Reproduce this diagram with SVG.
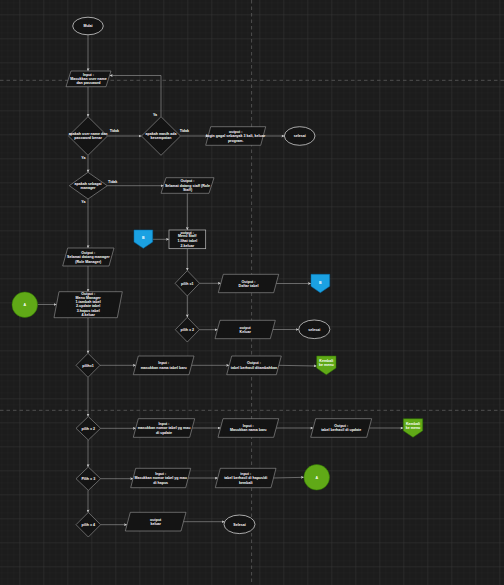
<svg xmlns="http://www.w3.org/2000/svg" width="504" height="585" viewBox="0 0 504 585">
<style>
.bg{fill:#1c1c1c}
.sh{fill:#141414;stroke:#9a9a9a;stroke-width:0.6}
.el{fill:#141414;stroke:#e6e6e6;stroke-width:0.7}
.rc{fill:#141414;stroke:#bdbdbd;stroke-width:0.7}
.blue{fill:#1ba1e2;stroke:#006eaf;stroke-width:0.5}
.green{fill:#60a917;stroke:#2d7600;stroke-width:0.5}
.t{font-family:"Liberation Sans",Arial,sans-serif;font-size:3.6px;font-weight:bold;fill:#ffffff;text-anchor:middle}
.lb{font-family:"Liberation Sans",Arial,sans-serif;font-size:3.6px;font-weight:bold;fill:#ffffff;text-anchor:middle}
.cn{fill:none;stroke:#a8a8a8;stroke-width:0.55}
.pg{stroke:#5c5c5c;stroke-width:0.8;stroke-dasharray:3.5 3;fill:none}
</style>
<defs>
<pattern id="minor" patternUnits="userSpaceOnUse" x="19.3" y="14.3" width="6" height="6">
<path d="M0 0H6M0 0V6" stroke="#262626" stroke-width="0.5" fill="none"/>
</pattern>
<pattern id="major" patternUnits="userSpaceOnUse" x="19.3" y="14.3" width="24" height="24">
<path d="M0 0H24M0 0V24" stroke="#3a3a3a" stroke-width="0.7" fill="none"/>
</pattern>
<marker id="ar" markerUnits="userSpaceOnUse" markerWidth="3" markerHeight="3" viewBox="0 0 6 6" refX="6" refY="3" orient="auto">
<path d="M0 0L6 3L0 6L1.5 3Z" fill="#d0d0d0"/>
</marker>
</defs>
<rect class="bg" x="0" y="0" width="504" height="585"/>
<rect x="0" y="0" width="504" height="585" fill="url(#minor)"/>
<rect x="0" y="0" width="504" height="585" fill="url(#major)"/>
<path class="pg" d="M0 80.3H504M0 410.3H504M251.6 0V585"/>

<g id="connectors">
<path class="cn" marker-end="url(#ar)" d="M88 34.8V71"/>
<path class="cn" marker-end="url(#ar)" d="M88 86.7V116.7"/>
<path class="cn" marker-end="url(#ar)" d="M107.5 136H141.5"/>
<path class="cn" marker-end="url(#ar)" d="M180.5 136H208.2"/>
<path class="cn" marker-end="url(#ar)" d="M263.2 136H284.4"/>
<path class="cn" marker-end="url(#ar)" d="M161 116.7V75.5H109.7"/>
<path class="cn" marker-end="url(#ar)" d="M88 155.3V172.3"/>
<path class="cn" marker-end="url(#ar)" d="M107.3 185.7H163.5"/>
<path class="cn" marker-end="url(#ar)" d="M187.3 193.3V230"/>
<path class="cn" marker-end="url(#ar)" d="M152.7 239.3H169"/>
<path class="cn" marker-end="url(#ar)" d="M187.3 248.7V270.6"/>
<path class="cn" marker-end="url(#ar)" d="M199.5 283.3H220.8"/>
<path class="cn" marker-end="url(#ar)" d="M276.2 283.5H311"/>
<path class="cn" marker-end="url(#ar)" d="M187.3 296V317.3"/>
<path class="cn" marker-end="url(#ar)" d="M199.3 329.7H217.5"/>
<path class="cn" marker-end="url(#ar)" d="M272.8 329.5H298.7"/>
<path class="cn" marker-end="url(#ar)" d="M88 199V248"/>
<path class="cn" marker-end="url(#ar)" d="M88 266V291.7"/>
<path class="cn" marker-end="url(#ar)" d="M37.6 304.5H56.5"/>
<path class="cn" marker-end="url(#ar)" d="M88 317.7V353.3"/>
<path class="cn" marker-end="url(#ar)" d="M100 365.3H135.8"/>
<path class="cn" marker-end="url(#ar)" d="M191.5 365.3H229.2"/>
<path class="cn" marker-end="url(#ar)" d="M278.8 365.3L316.7 366"/>
<path class="cn" marker-end="url(#ar)" d="M88 377.3V416.6"/>
<path class="cn" marker-end="url(#ar)" d="M100.6 428.3H135.8"/>
<path class="cn" marker-end="url(#ar)" d="M192.2 428H220.5"/>
<path class="cn" marker-end="url(#ar)" d="M276.2 428H313.2"/>
<path class="cn" marker-end="url(#ar)" d="M369.2 428H403.3"/>
<path class="cn" marker-end="url(#ar)" d="M88 440V467"/>
<path class="cn" marker-end="url(#ar)" d="M100.6 478.7H133.2"/>
<path class="cn" marker-end="url(#ar)" d="M188.2 478H217.8"/>
<path class="cn" marker-end="url(#ar)" d="M273.5 478L303.9 477.3"/>
<path class="cn" marker-end="url(#ar)" d="M88 490.4V512.4"/>
<path class="cn" marker-end="url(#ar)" d="M100.6 524.7H127"/>
<path class="cn" marker-end="url(#ar)" d="M183.5 521.7H224.6"/>
<text class="lb" x="114.3" y="131.9">Tidak</text>
<text class="lb" x="184.3" y="131.9">Tidak</text>
<text class="lb" x="155" y="115.5">Ya</text>
<text class="lb" x="83.3" y="158.5">Ya</text>
<text class="lb" x="112.7" y="182.5">Tidak</text>
<text class="lb" x="83.3" y="202.9">Ya</text>
</g>

<g id="start">
<ellipse class="el" cx="88" cy="26" rx="15.3" ry="8.8"/>
<text class="t" x="88" y="27.2">Mulai</text>
</g>
<g id="input-login">
<polygon class="sh" points="71,71 111,71 106,86.7 66,86.7"/>
<text class="t" x="88.5" y="75.7"><tspan x="88.5">Input :</tspan><tspan x="88.5" dy="4.3">Masukkan user name</tspan><tspan x="88.5" dy="4.3">dan password</tspan></text>
</g>
<g id="cek-login">
<polygon class="sh" points="88,116.7 107.5,136 88,155.3 68.5,136"/>
<text class="t" x="88" y="135.1"><tspan x="88">apakah user name dan</tspan><tspan x="88" dy="4.3">password benar</tspan></text>
</g>
<g id="cek-kesempatan">
<polygon class="sh" points="161,116.7 180.5,136 161,155.3 141.5,136"/>
<text class="t" x="161" y="135.1"><tspan x="161">apakah masih ada</tspan><tspan x="161" dy="4.3">kesempatan</tspan></text>
</g>
<g id="login-gagal">
<polygon class="sh" points="210.7,126.7 265.7,126.7 260.7,145.3 205.7,145.3"/>
<text class="t" x="235.7" y="132.9"><tspan x="235.7">output :</tspan><tspan x="235.7" dy="4.3">login gagal sebanyak 3 kali, keluar</tspan><tspan x="235.7" dy="4.3">program.</tspan></text>
</g>
<g id="selesai-1">
<ellipse class="el" cx="299.7" cy="136" rx="15.3" ry="9.3"/>
<text class="t" x="299.7" y="137.2">selesai</text>
</g>
<g id="cek-manager">
<polygon class="sh" points="88,172.3 107.3,185.7 88,199 69.3,185.7"/>
<text class="t" x="88" y="184.8"><tspan x="88">apakah sebagai</tspan><tspan x="88" dy="4.3">manager</tspan></text>
</g>
<g id="staff-welcome">
<polygon class="sh" points="166,177.7 214,177.7 209,193.3 161,193.3"/>
<text class="t" x="187.5" y="182.4"><tspan x="187.5">Output :</tspan><tspan x="187.5" dy="4.3">Selamat datang staff (Role</tspan><tspan x="187.5" dy="4.3">Staff)</tspan></text>
</g>
<g id="menu-staff">
<rect class="rc" x="169" y="230" width="36.7" height="18.7"/>
<text class="t" x="187.3" y="233.5"><tspan x="187.3">output :</tspan><tspan x="187.3" dy="3.7">Menu Staff</tspan><tspan x="187.3" dy="5">1.lihat tabel</tspan><tspan x="187.3" dy="4.3">2.keluar</tspan></text>
</g>
<g id="offpage-b-1">
<polygon class="blue" points="134,230 152.7,230 152.7,242 143.3,248.3 134,242"/>
<text class="t" x="143.3" y="239.4">B</text>
</g>
<g id="staff-pilih-1">
<polygon class="sh" points="187.3,270.6 199.5,283.3 187.3,296 175.1,283.3"/>
<text class="t" x="187.3" y="284.5">pilih =1</text>
</g>
<g id="daftar-tabel">
<polygon class="sh" points="223.3,274.3 278.7,274.3 273.7,292.7 218.3,292.7"/>
<text class="t" x="248.5" y="282.6"><tspan x="248.5">Output :</tspan><tspan x="248.5" dy="4.3">Daftar tabel</tspan></text>
</g>
<g id="offpage-b-2">
<polygon class="blue" points="311,274.3 329.7,274.3 329.7,286.3 320.3,292.7 311,286.3"/>
<text class="t" x="320.3" y="284">B</text>
</g>
<g id="staff-pilih-2">
<polygon class="sh" points="187.3,317.3 199.3,329.7 187.3,342 175.3,329.7"/>
<text class="t" x="187.3" y="330.9">pilih = 2</text>
</g>
<g id="staff-keluar">
<polygon class="sh" points="220,320.3 275.3,320.3 270.3,338.7 215,338.7"/>
<text class="t" x="245.2" y="328.6"><tspan x="245.2">output</tspan><tspan x="245.2" dy="4.3">Keluar</tspan></text>
</g>
<g id="selesai-2">
<ellipse class="el" cx="314.3" cy="329.3" rx="15.6" ry="9.3"/>
<text class="t" x="314.3" y="330.5">selesai</text>
</g>
<g id="manager-welcome">
<polygon class="sh" points="67.7,248 114,248 109,266 62.7,266"/>
<text class="t" x="88.3" y="253.9"><tspan x="88.3">Output :</tspan><tspan x="88.3" dy="4.3">Selamat datang manager</tspan><tspan x="88.3" dy="4.3">(Role Manager)</tspan></text>
</g>
<g id="connector-a-1">
<circle class="green" cx="24.8" cy="304.7" r="12.8"/>
<text class="t" x="24.8" y="305.9">A</text>
</g>
<g id="menu-manager">
<polygon class="sh" points="59,291.7 122.3,291.7 117.3,317.7 54,317.7"/>
<text class="t" x="88.2" y="294.5"><tspan x="88.2">Output :</tspan><tspan x="88.2" dy="4.3">Menu Manager</tspan><tspan x="88.2" dy="4.3">1.tambah tabel</tspan><tspan x="88.2" dy="4.3">2.update tabel</tspan><tspan x="88.2" dy="4.3">3.hapus tabel</tspan><tspan x="88.2" dy="4.3">4.keluar</tspan></text>
</g>
<g id="mgr-pilih-1">
<polygon class="sh" points="88,353.3 100,365.3 88,377.3 76,365.3"/>
<text class="t" x="88" y="366.5">pilih=1</text>
</g>
<g id="input-nama-tabel">
<polygon class="sh" points="138.3,356 194,356 189,374.7 133.3,374.7"/>
<text class="t" x="163.7" y="364.4"><tspan x="163.7">Input :</tspan><tspan x="163.7" dy="4.3">masukkan nama tabel baru</tspan></text>
</g>
<g id="tabel-ditambahkan">
<polygon class="sh" points="231.7,356 281.3,356 276.3,374.7 226.7,374.7"/>
<text class="t" x="254" y="364.4"><tspan x="254">Output :</tspan><tspan x="254" dy="4.3">tabel berhasil ditambahkan</tspan></text>
</g>
<g id="kembali-1">
<polygon class="green" points="316.7,356 336,356 336,368 326.3,374.7 316.7,368"/>
<text class="t" x="326.3" y="362"><tspan x="326.3">Kembali</tspan><tspan x="326.3" dy="4.3">ke menu</tspan></text>
</g>
<g id="mgr-pilih-2">
<polygon class="sh" points="88.3,416.6 100.6,428.3 88.3,440 76,428.3"/>
<text class="t" x="88.3" y="429.5">pilih = 2</text>
</g>
<g id="input-nomor-update">
<polygon class="sh" points="138.3,418.7 194.7,418.7 189.7,437.3 133.3,437.3"/>
<text class="t" x="164" y="424.9"><tspan x="164">Input :</tspan><tspan x="164" dy="4.3">masukkan nomor tabel yg mau</tspan><tspan x="164" dy="4.3">di update</tspan></text>
</g>
<g id="input-nama-baru">
<polygon class="sh" points="223,418.7 278.7,418.7 273.7,437.3 218,437.3"/>
<text class="t" x="248.3" y="427.1"><tspan x="248.3">Input :</tspan><tspan x="248.3" dy="4.3">Masukkan nama baru</tspan></text>
</g>
<g id="tabel-diupdate">
<polygon class="sh" points="315.7,418.7 371.7,418.7 366.7,437.3 310.7,437.3"/>
<text class="t" x="341.2" y="427.1"><tspan x="341.2">Output :</tspan><tspan x="341.2" dy="4.3">tabel berhasil di update</tspan></text>
</g>
<g id="kembali-2">
<polygon class="green" points="403.3,418.7 422.7,418.7 422.7,430.7 413,437.3 403.3,430.7"/>
<text class="t" x="413" y="424.7"><tspan x="413">Kembali</tspan><tspan x="413" dy="4.3">ke menu</tspan></text>
</g>
<g id="mgr-pilih-3">
<polygon class="sh" points="88.3,467 100.6,478.7 88.3,490.4 76,478.7"/>
<text class="t" x="88.3" y="479.9">Pilih = 3</text>
</g>
<g id="input-nomor-hapus">
<polygon class="sh" points="135.7,468.3 190.7,468.3 185.7,487.7 130.7,487.7"/>
<text class="t" x="160.7" y="474.9"><tspan x="160.7">Input :</tspan><tspan x="160.7" dy="4.3">Masukkan nomor tabel yg mau</tspan><tspan x="160.7" dy="4.3">di hapus</tspan></text>
</g>
<g id="tabel-dihapus">
<polygon class="sh" points="220.3,468.3 276,468.3 271,487.7 215.3,487.7"/>
<text class="t" x="245.7" y="474.9"><tspan x="245.7">input :</tspan><tspan x="245.7" dy="4.3">tabel berhasil di hapus/di</tspan><tspan x="245.7" dy="4.3">kembali</tspan></text>
</g>
<g id="connector-a-2">
<circle class="green" cx="316.7" cy="477.3" r="12.8"/>
<text class="t" x="316.7" y="478.5">A</text>
</g>
<g id="mgr-pilih-4">
<polygon class="sh" points="88.3,512.4 100.6,524.7 88.3,537 76,524.7"/>
<text class="t" x="88.3" y="525.9">pilih = 4</text>
</g>
<g id="mgr-keluar">
<polygon class="sh" points="130.3,512.3 186,512.3 181,531 125.3,531"/>
<text class="t" x="155.7" y="520.8"><tspan x="155.7">output</tspan><tspan x="155.7" dy="4.3">keluar</tspan></text>
</g>
<g id="selesai-3">
<ellipse class="el" cx="239.5" cy="524.3" rx="15.5" ry="9.3"/>
<text class="t" x="239.5" y="525.5">Selesai</text>
</g>
</svg>
